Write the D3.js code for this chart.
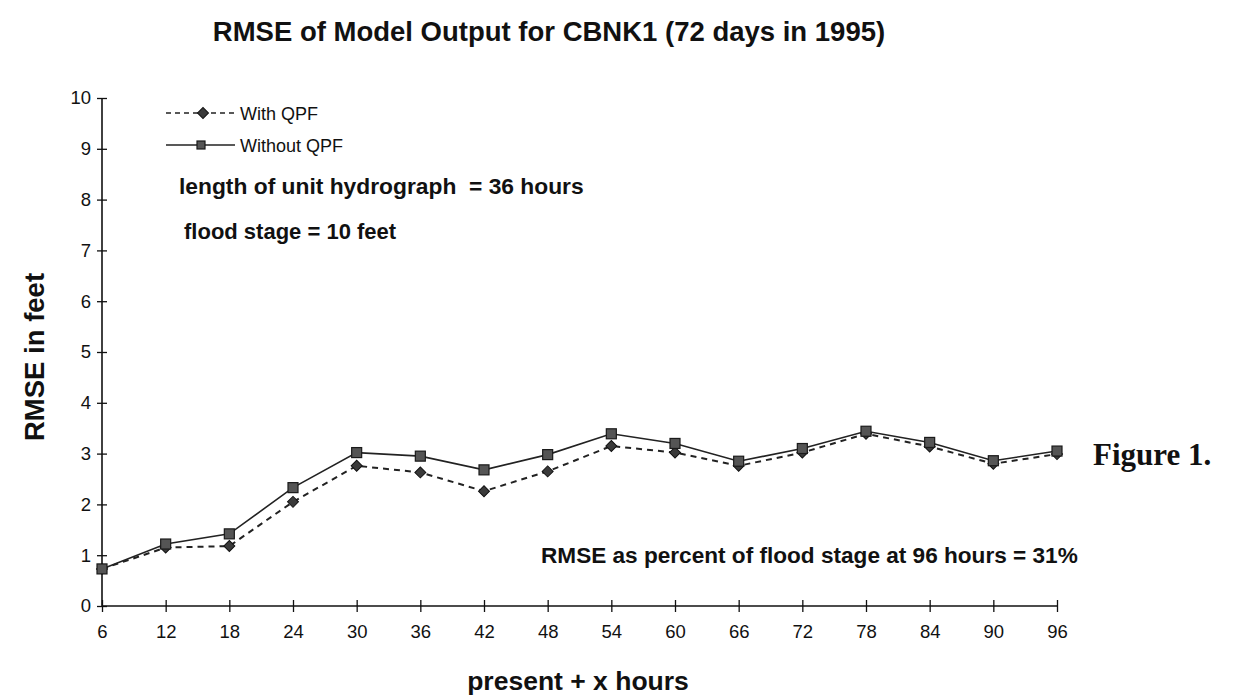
<!DOCTYPE html>
<html>
<head>
<meta charset="utf-8">
<script src="https://cdn.jsdelivr.net/npm/d3@7"></script>
<style>
  html, body { margin: 0; padding: 0; background: #fff; }
  svg { display: block; }
  text { font-family: "Liberation Sans", Arial, sans-serif; fill: #111; }
</style>
</head>
<body>
<svg id="chart" width="1241" height="698"></svg>
<script>
// ---- data ----
const hours = [6, 12, 18, 24, 30, 36, 42, 48, 54, 60, 66, 72, 78, 84, 90, 96];
const withQPF = [0.73, 1.15, 1.18, 2.05, 2.76, 2.63, 2.26, 2.65, 3.15, 3.02, 2.76, 3.02, 3.39, 3.14, 2.80, 2.99];
const withoutQPF = [0.73, 1.22, 1.42, 2.33, 3.02, 2.95, 2.68, 2.98, 3.39, 3.20, 2.85, 3.10, 3.44, 3.22, 2.86, 3.05];
const yTicks = [0, 1, 2, 3, 4, 5, 6, 7, 8, 9, 10];
const seriesNames = ["With QPF", "Without QPF"];
const titleText = "RMSE of Model Output for CBNK1 (72 days in 1995)";
const xLabel = "present + x hours";
const yLabel = "RMSE in feet";
const notes = ["length of unit hydrograph  = 36 hours", "flood stage = 10 feet",
               "RMSE as percent of flood stage at 96 hours = 31%"];
const figLabel = "Figure 1.";

// ---- layout ----
const svg = d3.select("#chart");
const x = d3.scaleLinear().domain([6, 96]).range([102, 1057]);
const y = d3.scaleLinear().domain([0, 10]).range([606, 98]);

// title
svg.append("text").attr("x", 549).attr("y", 41).attr("text-anchor", "middle")
  .attr("font-size", 27.5).attr("font-weight", "bold").text(titleText);

// y axis
const yAxis = svg.append("g").attr("transform", `translate(${x(6)},0)`)
  .call(d3.axisLeft(y).tickValues(yTicks).tickFormat(d3.format("d")).tickSize(5).tickPadding(6));
yAxis.selectAll(".tick line").attr("x1", 5).attr("x2", -5).attr("stroke", "#111").attr("stroke-width", 1.3);
yAxis.select(".domain").attr("d", `M0,${y(10)}V${y(0)}`).attr("stroke", "#111").attr("stroke-width", 1.6);
yAxis.selectAll(".tick text").attr("font-size", 18.5).attr("font-family", "Liberation Sans, Arial, sans-serif").attr("fill", "#111");

// x axis
const xAxis = svg.append("g").attr("transform", `translate(0,${y(0)})`)
  .call(d3.axisBottom(x).tickValues(hours).tickFormat(d3.format("d")).tickSize(6).tickPadding(13));
xAxis.selectAll(".tick line").attr("y1", -6).attr("y2", 6).attr("stroke", "#111").attr("stroke-width", 1.3);
xAxis.select(".domain").attr("d", `M${x(6)},0H${x(96)}`).attr("stroke", "#111").attr("stroke-width", 1.6);
xAxis.selectAll(".tick text").attr("font-size", 18.5).attr("font-family", "Liberation Sans, Arial, sans-serif").attr("fill", "#111");

// axis labels
svg.append("text").attr("x", 578).attr("y", 690).attr("text-anchor", "middle")
  .attr("font-size", 26.5).attr("font-weight", "bold").text(xLabel);
svg.append("text").attr("transform", "translate(44,357) rotate(-90)").attr("text-anchor", "middle")
  .attr("font-size", 27.5).attr("font-weight", "bold").text(yLabel);

// lines
const line = d3.line().x((d, i) => x(hours[i])).y(d => y(d));
svg.append("path").datum(withoutQPF).attr("d", line).attr("fill", "none")
  .attr("stroke", "#222").attr("stroke-width", 1.6);
svg.append("path").datum(withQPF).attr("d", line).attr("fill", "none")
  .attr("stroke", "#222").attr("stroke-width", 2).attr("stroke-dasharray", "6,5");

// markers (diamond = square rotated 45deg)
const diamond = d3.symbol().type(d3.symbolSquare).size(60);
svg.append("g").selectAll("path").data(withQPF).join("path")
  .attr("d", diamond).attr("transform", (d, i) => `translate(${x(hours[i])},${y(d)}) rotate(45)`)
  .attr("fill", "#3a3a3a").attr("stroke", "#111").attr("stroke-width", 1);
svg.append("g").selectAll("rect").data(withoutQPF).join("rect")
  .attr("x", (d, i) => x(hours[i]) - 5).attr("y", d => y(d) - 5)
  .attr("width", 10).attr("height", 10)
  .attr("fill", "#555").attr("stroke", "#1a1a1a").attr("stroke-width", 1.2);

// legend
const leg = svg.append("g");
leg.append("line").attr("x1", 166).attr("x2", 235).attr("y1", 113).attr("y2", 113)
  .attr("stroke", "#222").attr("stroke-width", 1.5).attr("stroke-dasharray", "5,4");
leg.append("path").attr("d", diamond).attr("transform", "translate(203,113) rotate(45)")
  .attr("fill", "#3a3a3a").attr("stroke", "#111");
leg.append("text").attr("x", 240).attr("y", 119.5).attr("font-size", 18).text(seriesNames[0]);
leg.append("line").attr("x1", 166).attr("x2", 235).attr("y1", 145).attr("y2", 145)
  .attr("stroke", "#222").attr("stroke-width", 1.5);
leg.append("rect").attr("x", 197).attr("y", 141).attr("width", 8).attr("height", 8)
  .attr("fill", "#555").attr("stroke", "#1a1a1a").attr("stroke-width", 1.2);
leg.append("text").attr("x", 240).attr("y", 151.5).attr("font-size", 18).text(seriesNames[1]);

// annotations
svg.append("text").attr("x", 179).attr("y", 194).attr("font-size", 22.8).attr("font-weight", "bold")
  .style("white-space", "pre").text(notes[0]);
svg.append("text").attr("x", 184).attr("y", 239).attr("font-size", 22).attr("font-weight", "bold")
  .text(notes[1]);
svg.append("text").attr("x", 541).attr("y", 563).attr("font-size", 22.6).attr("font-weight", "bold")
  .text(notes[2]);
svg.append("text").attr("x", 1093).attr("y", 465).attr("font-size", 31).attr("font-weight", "bold")
  .style("font-family", "'Liberation Serif', 'Times New Roman', serif").text(figLabel);
</script>
</body>
</html>
